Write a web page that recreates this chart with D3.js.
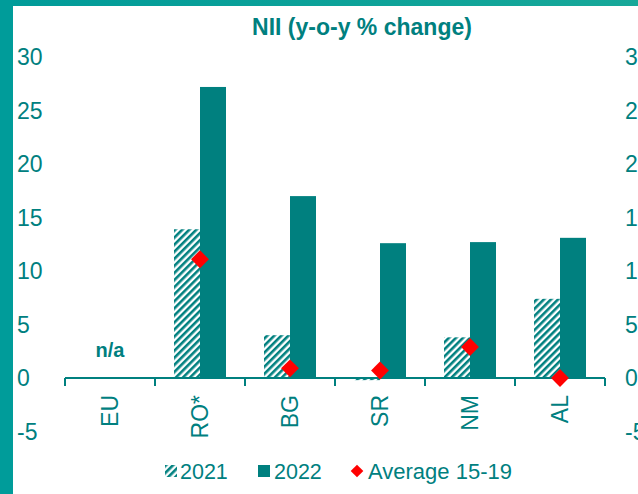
<!DOCTYPE html>
<html>
<head>
<meta charset="utf-8">
<script src="https://cdn.jsdelivr.net/npm/d3@7/dist/d3.min.js"></script>
<style>
  body { margin: 0; background: #fff; }
  svg text { font-family: "Liberation Sans", Arial, sans-serif; fill: #00807f; }
</style>
</head>
<body>
<svg width="638" height="494"></svg>
<script>
// data
const categories = ["EU", "RO*", "BG", "SR", "NM", "AL"]
const values2021 = [null, 13.9, 4.0, -0.2, 3.8, 7.4]
const values2022 = [null, 27.2, 17.0, 12.6, 12.7, 13.1]
const average1519 = [null, 11.1, 0.9, 0.7, 2.9, 0.0]
const yTicks = [-5, 0, 5, 10, 15, 20, 25, 30]

const teal = "#00807f"

let svg = d3.select("svg")

// frame strips
let defs = svg.append("defs")
let grad = defs.append("linearGradient").attr("id", "topGrad")
grad.append("stop").attr("offset", "0%").attr("stop-color", "#009b99")
grad.append("stop").attr("offset", "100%").attr("stop-color", "#17a899")
svg.append("rect").attr("x", 0).attr("y", 0).attr("width", 638).attr("height", 6).style("fill", "url(#topGrad)")
svg.append("rect").attr("x", 0).attr("y", 0).attr("width", 13).attr("height", 494).style("fill", "#009c9a")

// hatch pattern for 2021
let pat = defs.append("pattern")
    .attr("id", "hatch")
    .attr("patternUnits", "userSpaceOnUse")
    .attr("width", 5).attr("height", 5)
    .attr("patternTransform", "rotate(45)")
pat.append("rect").attr("width", 5).attr("height", 5).style("fill", "#fff")
pat.append("rect").attr("width", 2.6).attr("height", 5).style("fill", teal)

// scales
let x = d3.scaleBand().domain(categories).range([65, 605])
let y = d3.scaleLinear().domain([-5, 30]).range([431.5, 57])
let barW = 26

// title
svg.append("text")
    .attr("x", 362).attr("y", 35)
    .attr("text-anchor", "middle")
    .style("font-weight", "bold").style("font-size", "23px")
    .text("NII (y-o-y % change)")

// left and right tick labels
svg.append("g").selectAll("text").data(yTicks).enter()
    .append("text")
    .attr("x", 17).attr("y", d => y(d))
    .attr("dy", "0.36em")
    .style("font-size", "23px")
    .text(d => d)
svg.append("g").selectAll("text").data(yTicks).enter()
    .append("text")
    .attr("x", 625).attr("y", d => y(d))
    .attr("dy", "0.36em")
    .style("font-size", "23px")
    .text(d => d)

// bars 2021
let rows = categories.map((c, i) => ({cat: c, v21: values2021[i], v22: values2022[i], avg: average1519[i]}))
svg.append("g").selectAll("rect").data(rows.filter(d => d.v21 != null)).enter()
    .append("rect")
    .attr("x", d => x(d.cat) + x.bandwidth() / 2 - barW)
    .attr("y", d => y(Math.max(0, d.v21)))
    .attr("width", barW)
    .attr("height", d => Math.abs(y(d.v21) - y(0)))
    .style("fill", "url(#hatch)")

// bars 2022
svg.append("g").selectAll("rect").data(rows.filter(d => d.v22 != null)).enter()
    .append("rect")
    .attr("x", d => x(d.cat) + x.bandwidth() / 2)
    .attr("y", d => y(Math.max(0, d.v22)))
    .attr("width", barW)
    .attr("height", d => Math.abs(y(d.v22) - y(0)))
    .style("fill", teal)

// category axis
let xAxis = svg.append("g")
xAxis.append("line")
    .attr("x1", 65).attr("x2", 605)
    .attr("y1", y(0)).attr("y2", y(0))
    .style("stroke", teal).style("stroke-width", 2)
xAxis.selectAll("line.tick").data(d3.range(categories.length + 1)).enter()
    .append("line").classed("tick", true)
    .attr("x1", i => 65 + i * x.step()).attr("x2", i => 65 + i * x.step())
    .attr("y1", y(0)).attr("y2", y(0) + 8)
    .style("stroke", teal).style("stroke-width", 2)
xAxis.selectAll("text").data(categories).enter()
    .append("text")
    .attr("transform", d => "translate(" + (x(d) + x.bandwidth() / 2) + "," + 395 + ") rotate(-90)")
    .attr("dy", "0.36em")
    .attr("text-anchor", "end")
    .style("font-size", "23px")
    .text(d => d)

// average markers
svg.append("g").selectAll("path").data(rows.filter(d => d.avg != null)).enter()
    .append("path")
    .attr("d", d3.symbol(d3.symbolSquare, 160))
    .attr("transform", d => "translate(" + (x(d.cat) + x.bandwidth() / 2) + "," + y(d.avg) + ") rotate(45)")
    .style("fill", "#ff0000")

// n/a for EU
svg.append("text")
    .attr("x", x("EU") + x.bandwidth() / 2).attr("y", 350)
    .attr("dy", "0.36em")
    .attr("text-anchor", "middle")
    .style("font-weight", "bold").style("font-size", "20px")
    .text("n/a")

// legend
let legend = svg.append("g")
legend.append("rect").attr("x", 165).attr("y", 465).attr("width", 12).attr("height", 12).style("fill", "url(#hatch)")
legend.append("text").attr("x", 180).attr("y", 471).attr("dy", "0.36em").style("font-size", "21.5px").text("2021")
legend.append("rect").attr("x", 258).attr("y", 465).attr("width", 12).attr("height", 12).style("fill", teal)
legend.append("text").attr("x", 274).attr("y", 471).attr("dy", "0.36em").style("font-size", "21.5px").text("2022")
legend.append("path")
    .attr("d", d3.symbol(d3.symbolSquare, 80))
    .attr("transform", "translate(357,471) rotate(45)")
    .style("fill", "#ff0000")
legend.append("text").attr("x", 368).attr("y", 471).attr("dy", "0.36em").style("font-size", "22px").text("Average 15-19")
</script>
</body>
</html>
